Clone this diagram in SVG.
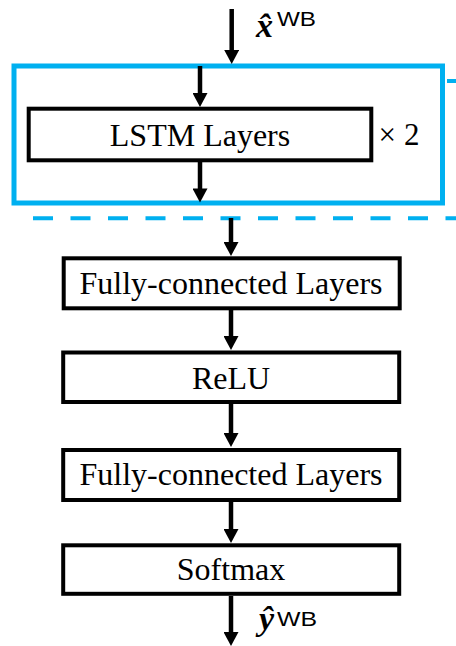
<svg xmlns="http://www.w3.org/2000/svg" width="456" height="646" viewBox="0 0 456 646">
<style>
.box{fill:#fff;stroke:#000;stroke-width:4}
.lbl{font-family:"Liberation Serif","Times New Roman",serif;font-size:32px;fill:#000;text-anchor:middle}
.blue{fill:none;stroke:#00B0F0;stroke-width:5}
.dash{fill:none;stroke:#00B0F0;stroke-width:4;stroke-dasharray:20 17.5}
.arr{fill:none;stroke:#000;stroke-width:4.5}
.math{font-family:"Liberation Serif","Times New Roman",serif;font-size:34px;font-weight:bold;font-style:italic;fill:#000}
.sup{font-family:"Liberation Sans",Arial,sans-serif;font-size:21px;fill:#000}
</style>
<defs>
<marker id="ah" markerUnits="userSpaceOnUse" markerWidth="15" markerHeight="15" viewBox="0 0 14 15" refX="2" refY="7.5" orient="auto">
<path d="M0,0 L14,7.5 L0,15 z" fill="#000"/>
</marker>
</defs>
<g id="repeat-block">
<rect class="blue" x="14" y="66" width="428.5" height="137"/>
<line class="dash" x1="33" y1="218.3" x2="456" y2="218.3"/>
<line x1="447" y1="81" x2="456" y2="81" stroke="#00B0F0" stroke-width="4"/>
</g>
<g id="lstm">
<rect class="box" x="28.7" y="108.7" width="342.6" height="51.6"/>
<text class="lbl" x="200" y="146">LSTM Layers</text>
</g>
<g id="times2">
<text font-family="'Liberation Serif','Times New Roman',serif" font-size="31" fill="#000" y="144.5"><tspan x="378.5">×</tspan><tspan x="404">2</tspan></text>
</g>
<g id="fc1">
<rect class="box" x="63.7" y="258.3" width="336" height="50"/>
<text class="lbl" x="231" y="294">Fully-connected Layers</text>
</g>
<g id="relu">
<rect class="box" x="63.2" y="352.5" width="336" height="49.5"/>
<text class="lbl" x="231" y="389">ReLU</text>
</g>
<g id="fc2">
<rect class="box" x="63.2" y="450" width="336" height="50"/>
<text class="lbl" x="231" y="485">Fully-connected Layers</text>
</g>
<g id="softmax">
<rect class="box" x="63.2" y="545.3" width="336" height="48.5"/>
<text class="lbl" x="231" y="580">Softmax</text>
</g>
<g id="input-label">
<text x="256" y="36.5"><tspan class="math">x̂</tspan><tspan class="sup" x="277" y="26" textLength="39" lengthAdjust="spacingAndGlyphs">WB</tspan></text>
</g>
<g id="output-label">
<text x="259" y="630"><tspan class="math">ŷ</tspan><tspan class="sup" x="277" y="626" textLength="40" lengthAdjust="spacingAndGlyphs">WB</tspan></text>
</g>
<g id="connectors">
<line class="arr" x1="231.7" y1="9" x2="231.7" y2="52" marker-end="url(#ah)"/>
<line class="arr" x1="200" y1="66" x2="200" y2="95" marker-end="url(#ah)"/>
<line class="arr" x1="200" y1="162" x2="200" y2="190.5" marker-end="url(#ah)"/>
<line class="arr" x1="231" y1="218" x2="231" y2="244" marker-end="url(#ah)"/>
<line class="arr" x1="231" y1="310" x2="231" y2="338" marker-end="url(#ah)"/>
<line class="arr" x1="231" y1="404" x2="231" y2="435" marker-end="url(#ah)"/>
<line class="arr" x1="231" y1="502" x2="231" y2="531" marker-end="url(#ah)"/>
<line class="arr" x1="231" y1="596" x2="231" y2="634" marker-end="url(#ah)"/>
</g>
</svg>
